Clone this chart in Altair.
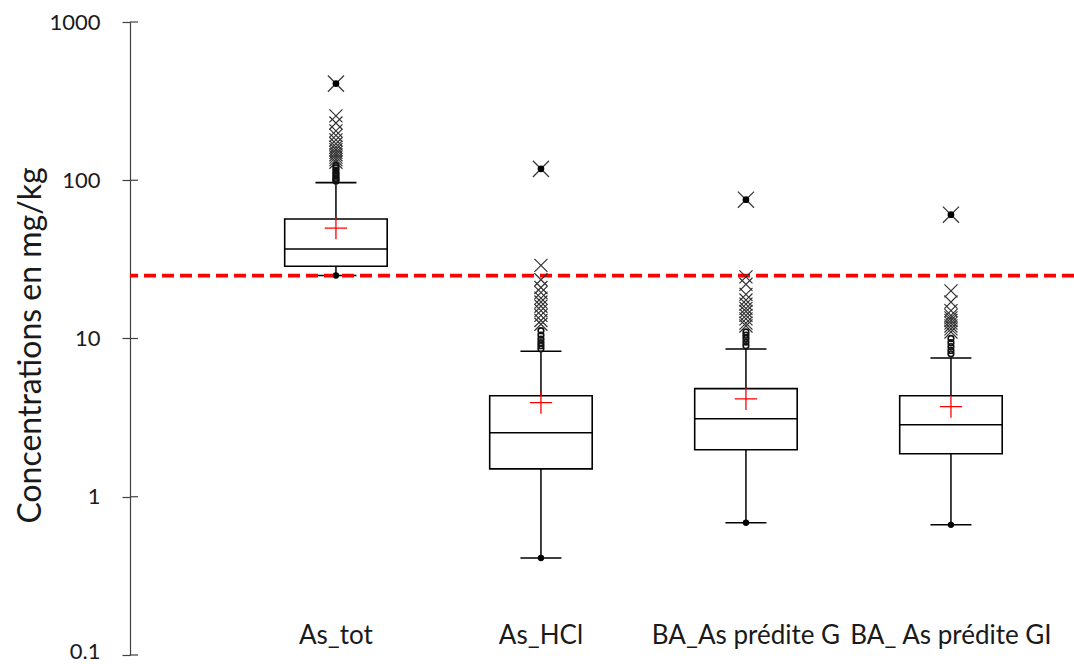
import altair as alt
import pandas as pd

# ---------------- data ----------------
categories = ["As_tot", "As_HCl", "BA_As prédite G", "BA_ As prédite GI"]
q1 = [28.6, 1.50, 1.98, 1.87]
median = [36.8, 2.54, 3.11, 2.85]
q3 = [56.9, 4.35, 4.82, 4.35]
mean = [49.9, 3.93, 4.16, 3.71]
whisker_low = [25.0, 0.41, 0.685, 0.665]
whisker_high = [96.6, 8.3, 8.58, 7.53]
maximum = [408, 118, 75.4, 60.6]

mild_As_tot = [99, 101, 103, 106, 109, 112, 116, 120, 124]
mild_As_HCl = [8.6, 9.0, 9.4, 9.9, 10.5, 11.2]
mild_G = [9.0, 9.5, 10.0, 10.5, 11.0]
mild_GI = [8.0, 8.4, 8.9, 9.4, 10.0]

extreme_As_tot = [130, 135, 140, 145, 150, 156, 162, 170, 180, 192, 205, 230, 255]
extreme_As_HCl = [12.3, 13.0, 14.0, 15.0, 16.0, 17.0, 18.0, 19.5, 21.0, 23.5, 29.0]
extreme_G = [12.0, 12.5, 13.3, 14.0, 14.8, 15.5, 16.5, 17.5, 19.0, 22.0, 24.5]
extreme_GI = [11.0, 11.5, 12.0, 12.5, 13.0, 13.5, 14.0, 15.0, 17.0, 20.0]

threshold = [25]
y_ticks = [0.1, 1, 10, 100, 1000]

# ---------------- tables ----------------
stats = pd.DataFrame({
    "cat": categories, "q1": q1, "median": median, "q3": q3, "mean": mean,
    "wlo": whisker_low, "whi": whisker_high, "max": maximum,
})
caps = pd.DataFrame({"cat": categories * 2, "v": whisker_low + whisker_high})

def long(d):
    rows = []
    for c, vals in d.items():
        for v in vals:
            rows.append({"cat": c, "v": v})
    return pd.DataFrame(rows)

mild = long(dict(zip(categories, [mild_As_tot, mild_As_HCl, mild_G, mild_GI])))
extreme = long(dict(zip(categories, [extreme_As_tot, extreme_As_HCl, extreme_G, extreme_GI])))
thr = pd.DataFrame({"v": threshold})
ticks_df = pd.DataFrame({"v": y_ticks})

FONT = "Lato"
AXIS_COL = "#404040"

xscale = alt.Scale(domain=categories, paddingInner=0.5, paddingOuter=0.5524, align=0.683)
xaxis = alt.Axis(title=None, domain=False, ticks=False, labelAngle=0, labelPadding=-33,
                 labelFontSize=26, labelFont=FONT, labelColor="#1a1a1a",
                 labelOverlap=False, labelLimit=0)
yscale = alt.Scale(type="log", domain=[0.1, 1000], nice=False)
yaxis = alt.Axis(values=y_ticks, format="~g", grid=False, title="Concentrations en mg/kg",
                 domainColor=AXIS_COL, tickColor=AXIS_COL, tickSize=8, domainWidth=1.2,
                 tickWidth=1.2, labelFontSize=22, labelFont=FONT, labelColor="#1a1a1a",
                 labelPadding=22,
                 labelBaseline=alt.ExprRef(expr="datum.value < 0.5 ? 'bottom' : 'middle'"),
                 labelOffset=alt.ExprRef(expr="datum.value < 0.5 ? 8 : 0"),
                 titleFont=FONT, titleFontSize=32, titleFontWeight="normal",
                 titleColor="#1a1a1a", titleX=-100, titleY=323, titleAngle=270,
                 titleAlign="center", titleBaseline="middle")

def X():
    return alt.X("cat:N", sort=categories, scale=xscale, axis=xaxis)

def Y(field):
    return alt.Y(f"{field}:Q", scale=yscale, axis=yaxis)

whisk = alt.Chart(stats).mark_rule(color="#000", strokeWidth=1.5).encode(
    x=X(), y=Y("wlo"), y2="whi")
box = alt.Chart(stats).mark_bar(fill="white", stroke="#000", strokeWidth=1.6, opacity=1).encode(
    x=X(), y=Y("q1"), y2="q3")
med = alt.Chart(stats).mark_tick(color="#000", size=103, thickness=1.6, opacity=1).encode(
    x=X(), y=Y("median"))
cap = alt.Chart(caps).mark_tick(color="#000", size=41, thickness=1.6, opacity=1).encode(
    x=X(), y=Y("v"))
mins = alt.Chart(stats).mark_point(shape="circle", filled=True, size=40, color="#000", opacity=1).encode(
    x=X(), y=Y("wlo"))
means = alt.Chart(stats).mark_point(shape="M-1,0L1,0M0,-1L0,1", size=500, filled=False,
                                    stroke="#ff0000", strokeWidth=1.3, opacity=1).encode(
    x=X(), y=Y("mean"))
redline = alt.Chart(thr).mark_rule(color="#ff0000", strokeDash=[12, 6], strokeWidth=3.8).encode(
    y=Y("v"))
xs = alt.Chart(extreme).mark_point(shape="M-1,-1L1,1M-1,1L1,-1", size=170, filled=False,
                                   stroke="#333333", strokeWidth=1.2, opacity=1).encode(
    x=X(), y=Y("v"))
circ = alt.Chart(mild).mark_point(shape="circle", size=32, filled=False, stroke="#111",
                                  strokeWidth=1.6, opacity=1).encode(
    x=X(), y=Y("v"))
maxx = alt.Chart(stats).mark_point(shape="M-1,-1L1,1M-1,1L1,-1", size=260, filled=False,
                                   stroke="#3a3a3a", strokeWidth=1.3, opacity=1).encode(
    x=X(), y=Y("max"))
maxd = alt.Chart(stats).mark_point(shape="circle", filled=True, size=45, color="#000", opacity=1).encode(
    x=X(), y=Y("max"))
inner_ticks = alt.Chart(ticks_df).mark_rule(color=AXIS_COL, strokeWidth=1.2).encode(
    y=Y("v"), x=alt.value(0), x2=alt.value(8))

chart = alt.layer(whisk, box, med, cap, redline, mins, means, xs, circ, maxx, maxd, inner_ticks).properties(
    width=944, height=633,
    autosize=alt.AutoSizeParams(type="none"),
    padding={"left": 130, "top": 22, "right": 0, "bottom": 9},
    background="white",
).configure_view(stroke=None)

chart.save("out.html", embed_options={"renderer": "svg", "actions": False})
